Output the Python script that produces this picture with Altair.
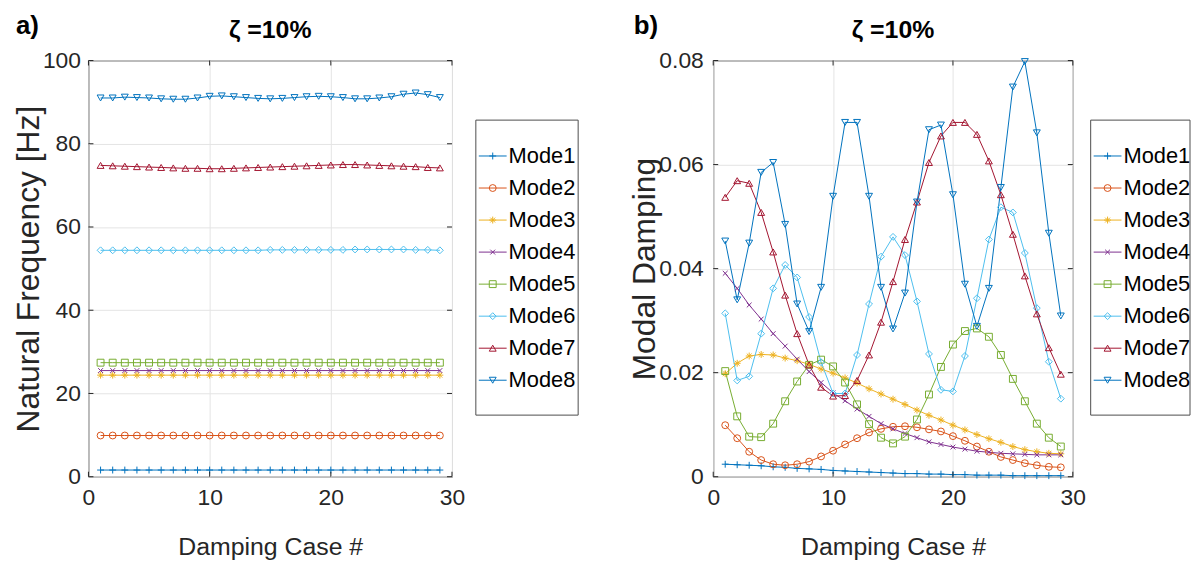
import altair as alt
import pandas as pd

cases = list(range(1, 30))
modes = ["Mode1", "Mode2", "Mode3", "Mode4", "Mode5", "Mode6", "Mode7", "Mode8"]

# a) natural frequency [Hz]
freq_mode1 = [1.6, 1.6, 1.6, 1.6, 1.6, 1.6, 1.6, 1.6, 1.6, 1.6, 1.6, 1.6, 1.6, 1.6, 1.6,
              1.6, 1.6, 1.6, 1.6, 1.6, 1.6, 1.6, 1.6, 1.6, 1.6, 1.6, 1.6, 1.6, 1.6]
freq_mode2 = [9.9, 9.9, 9.9, 9.9, 9.9, 9.9, 9.9, 9.9, 9.9, 9.9, 9.9, 9.9, 9.9, 9.9, 9.9,
              9.9, 9.9, 9.9, 9.9, 9.9, 9.9, 9.9, 9.9, 9.9, 9.9, 9.9, 9.9, 9.9, 9.9]
freq_mode3 = [24.4, 24.4, 24.4, 24.4, 24.4, 24.4, 24.4, 24.4, 24.4, 24.4, 24.4, 24.4, 24.4, 24.4, 24.4,
              24.4, 24.4, 24.4, 24.4, 24.4, 24.4, 24.4, 24.4, 24.4, 24.4, 24.4, 24.4, 24.4, 24.4]
freq_mode4 = [25.5, 25.5, 25.5, 25.5, 25.5, 25.5, 25.5, 25.5, 25.5, 25.5, 25.5, 25.5, 25.5, 25.5, 25.5,
              25.5, 25.5, 25.5, 25.5, 25.5, 25.5, 25.5, 25.5, 25.5, 25.5, 25.5, 25.5, 25.5, 25.5]
freq_mode5 = [27.4, 27.4, 27.4, 27.4, 27.4, 27.4, 27.4, 27.4, 27.4, 27.4, 27.4, 27.4, 27.4, 27.4, 27.4,
              27.4, 27.4, 27.4, 27.4, 27.4, 27.4, 27.4, 27.4, 27.4, 27.4, 27.4, 27.4, 27.4, 27.4]
freq_mode6 = [54.4, 54.4, 54.4, 54.4, 54.4, 54.4, 54.4, 54.4, 54.4, 54.4, 54.4, 54.4, 54.4, 54.4, 54.5,
              54.5, 54.5, 54.5, 54.5, 54.5, 54.5, 54.6, 54.6, 54.6, 54.6, 54.6, 54.5, 54.5, 54.4]
freq_mode7 = [74.8, 74.7, 74.6, 74.5, 74.4, 74.3, 74.2, 74.1, 74.1, 74.0, 74.0, 74.1, 74.2, 74.3, 74.4,
              74.5, 74.6, 74.7, 74.8, 74.9, 75.0, 75.0, 74.9, 74.8, 74.7, 74.6, 74.5, 74.3, 74.2]
freq_mode8 = [91.0, 91.0, 91.2, 91.1, 91.0, 90.8, 90.7, 90.7, 91.0, 91.4, 91.5, 91.3, 91.1, 90.9, 90.8,
              90.9, 91.1, 91.3, 91.4, 91.3, 91.1, 90.8, 90.8, 91.0, 91.3, 91.9, 92.2, 91.8, 91.1]

# b) modal damping
damp_mode1 = [0.0024, 0.0023, 0.0022, 0.0021, 0.0019, 0.0018, 0.0016, 0.0015, 0.0014, 0.0012,
              0.0011, 0.0010, 0.0009, 0.0008, 0.0007, 0.0006, 0.0006, 0.0005, 0.0005, 0.0004,
              0.0004, 0.0003, 0.0003, 0.0003, 0.0002, 0.0002, 0.0002, 0.0002, 0.0002]
damp_mode2 = [0.0099, 0.0074, 0.0048, 0.0032, 0.0024, 0.0022, 0.0024, 0.0029, 0.0039, 0.0050,
              0.0062, 0.0074, 0.0085, 0.0092, 0.0096, 0.0097, 0.0095, 0.0091, 0.0087, 0.0078,
              0.0069, 0.0058, 0.0048, 0.0038, 0.0032, 0.0026, 0.0022, 0.0019, 0.0018]
damp_mode3 = [0.0198, 0.0218, 0.0232, 0.0235, 0.0234, 0.0228, 0.0223, 0.0216, 0.0207, 0.0199,
              0.0190, 0.0180, 0.0169, 0.0159, 0.0149, 0.0139, 0.0128, 0.0118, 0.0109, 0.0099,
              0.0090, 0.0081, 0.0073, 0.0066, 0.0058, 0.0052, 0.0048, 0.0045, 0.0044]
damp_mode4 = [0.0391, 0.0362, 0.0330, 0.0303, 0.0275, 0.0251, 0.0226, 0.0202, 0.0181, 0.0161,
              0.0146, 0.0130, 0.0116, 0.0102, 0.0092, 0.0083, 0.0075, 0.0067, 0.0062, 0.0057,
              0.0053, 0.0049, 0.0047, 0.0045, 0.0044, 0.0043, 0.0042, 0.0042, 0.0042]
damp_mode5 = [0.0203, 0.0116, 0.0077, 0.0076, 0.0102, 0.0145, 0.0183, 0.0215, 0.0225, 0.0212,
              0.0181, 0.0139, 0.0101, 0.0075, 0.0064, 0.0077, 0.0110, 0.0158, 0.0211, 0.0254,
              0.0280, 0.0285, 0.0269, 0.0234, 0.0188, 0.0145, 0.0102, 0.0075, 0.0058]
damp_mode6 = [0.0314, 0.0185, 0.0193, 0.0275, 0.0362, 0.0407, 0.0383, 0.0307, 0.0220, 0.0160,
              0.0160, 0.0234, 0.0332, 0.0423, 0.0461, 0.0426, 0.0337, 0.0236, 0.0167, 0.0164,
              0.0232, 0.0343, 0.0456, 0.0518, 0.0508, 0.0430, 0.0324, 0.0221, 0.0150]
damp_mode7 = [0.0537, 0.0569, 0.0564, 0.0508, 0.0432, 0.0349, 0.0275, 0.0215, 0.0172, 0.0155,
              0.0156, 0.0185, 0.0234, 0.0297, 0.0375, 0.0456, 0.0528, 0.0604, 0.0655, 0.0681,
              0.0681, 0.0658, 0.0607, 0.0542, 0.0466, 0.0386, 0.0313, 0.0248, 0.0197]
damp_mode8 = [0.0453, 0.0340, 0.0449, 0.0585, 0.0604, 0.0485, 0.0332, 0.0279, 0.0364, 0.0539,
              0.0681, 0.0681, 0.0539, 0.0364, 0.0284, 0.0353, 0.0528, 0.0667, 0.0676, 0.0542,
              0.0370, 0.0289, 0.0362, 0.0556, 0.0749, 0.0798, 0.0661, 0.0468, 0.0309]

x_ticks = [0, 10, 20, 30]
freq_ticks = [0, 20, 40, 60, 80, 100]
damp_ticks = [0, 0.02, 0.04, 0.06, 0.08]

colors = ["#0072BD", "#D95319", "#EDB120", "#7E2F8E", "#77AC30", "#4DBEEE", "#A2142F", "#0072BD"]
shapes = [
    "M-1,0L1,0M0,-1L0,1",
    "circle",
    "M-1,0L1,0M0,-1L0,1M-0.7,-0.7L0.7,0.7M-0.7,0.7L0.7,-0.7",
    "M-0.7,-0.7L0.7,0.7M-0.7,0.7L0.7,-0.7",
    "square",
    "diamond",
    "triangle-up",
    "triangle-down",
]

FONT = "Liberation Sans"
AXIS_COLOR = "#262626"
GRID_COLOR = "#e4e4e4"


def long_df(series):
    rows = []
    for m, vals in zip(modes, series):
        for c, v in zip(cases, vals):
            rows.append({"Case": c, "Mode": m, "Value": v})
    return pd.DataFrame(rows)


color_scale = alt.Scale(domain=modes, range=colors)
shape_scale = alt.Scale(domain=modes, range=shapes)


def panel(df, W, H, ydomain, yticks, yfmt, ytitle, ylabel_pad, tag, tag_dx, leg_dx, leg_w):
    xscale = alt.Scale(domain=[0, 30], nice=False)
    xenc = alt.X("Case:Q", scale=xscale,
                 axis=alt.Axis(values=x_ticks, title="Damping Case #", grid=True,
                               labelFlush=False, titleFontSize=25, titlePadding=25,
                               labelPadding=10))
    yenc = alt.Y("Value:Q", scale=alt.Scale(domain=ydomain, nice=False, zero=False),
                 axis=alt.Axis(values=yticks, format=yfmt, title=ytitle, grid=True,
                               labelFlush=False, titleFontSize=32, titlePadding=-3,
                               labelPadding=ylabel_pad))
    col = alt.Color("Mode:N", scale=color_scale, legend=None)
    shp = alt.Shape("Mode:N", scale=shape_scale, legend=None)

    base = alt.Chart(df)
    lines = base.mark_line(strokeWidth=1).encode(x=xenc, y=yenc, color=col, detail="Mode:N")
    pts = base.mark_point(filled=False, size=48, strokeWidth=1, opacity=1).encode(
        x=alt.X("Case:Q", scale=xscale), y="Value:Q", color=col, shape=shp)

    xt = alt.Chart(pd.DataFrame({"Case": x_ticks}))
    yt = alt.Chart(pd.DataFrame({"Value": yticks}))
    tick_b = xt.mark_rule(color=AXIS_COLOR, strokeWidth=1).encode(
        x="Case:Q", y=alt.value(H), y2=alt.value(H - 5))
    tick_t = xt.mark_rule(color=AXIS_COLOR, strokeWidth=1).encode(
        x="Case:Q", y=alt.value(0), y2=alt.value(5))
    tick_l = yt.mark_rule(color=AXIS_COLOR, strokeWidth=1).encode(
        y="Value:Q", x=alt.value(0), x2=alt.value(5))
    tick_r = yt.mark_rule(color=AXIS_COLOR, strokeWidth=1).encode(
        y="Value:Q", x=alt.value(W - 5), x2=alt.value(W))

    one = alt.Chart(pd.DataFrame({"k": [0]}))
    tag_txt = one.mark_text(text=tag, align="left", baseline="alphabetic", fontSize=26,
                            fontWeight="bold", font=FONT, color="#000000").encode(
        x=alt.value(tag_dx), y=alt.value(-27))
    title_txt = one.mark_text(text="ζ =10%", align="center", baseline="alphabetic", fontSize=25,
                              fontWeight="bold", font=FONT, color="#000000").encode(
        x=alt.value(W / 2), y=alt.value(-23))

    data_layer = alt.layer(lines, pts, tick_b, tick_t, tick_l, tick_r, tag_txt, title_txt)

    # legend (drawn with the same colour and shape scales)
    ld = alt.Chart(pd.DataFrame({"Mode": modes}))
    ly = alt.Y("Mode:N", scale=alt.Scale(domain=modes, range=[80, 338]), axis=None)
    box = one.mark_rect(fill="white", stroke="#4d4d4d", strokeWidth=1).encode(
        x=alt.value(W + leg_dx), x2=alt.value(W + leg_dx + leg_w),
        y=alt.value(60), y2=alt.value(357))
    lrule = ld.mark_rule(strokeWidth=1).encode(
        x=alt.value(W + leg_dx + 3), x2=alt.value(W + leg_dx + 31), y=ly, color=col)
    lpt = ld.mark_point(filled=False, size=48, strokeWidth=1, opacity=1).encode(
        x=alt.value(W + leg_dx + 17), y=ly, color=col, shape=shp)
    ltxt = ld.mark_text(align="left", baseline="middle", fontSize=22,
                        font=FONT, color="#000000").encode(
        x=alt.value(W + leg_dx + 33), y=ly, text="Mode:N")
    legend_layer = alt.layer(box, lrule, lpt, ltxt)

    return alt.layer(data_layer, legend_layer).resolve_scale(y="independent").properties(
        width=W, height=H)


panel_a = panel(long_df([freq_mode1, freq_mode2, freq_mode3, freq_mode4,
                         freq_mode5, freq_mode6, freq_mode7, freq_mode8]),
                366, 419, [0, 100], freq_ticks, "d", "Natural Frequency [Hz]", 8, "a)", -73, 24, 103)
panel_b = panel(long_df([damp_mode1, damp_mode2, damp_mode3, damp_mode4,
                         damp_mode5, damp_mode6, damp_mode7, damp_mode8]),
                362, 419, [0, 0.08], damp_ticks, ".2~f", "Modal Damping", 10, "b)", -80, 18, 100)

chart = alt.hconcat(panel_a, panel_b, spacing=49).properties(
    padding={"left": 4, "top": 2, "right": 0, "bottom": 0}
).configure_view(
    stroke=AXIS_COLOR, strokeWidth=1
).configure_axis(
    labelFont=FONT, labelFontSize=23, labelColor=AXIS_COLOR,
    titleFont=FONT, titleColor=AXIS_COLOR, titleFontWeight="normal", domain=False, ticks=False,
    gridColor=GRID_COLOR, gridWidth=1
)

chart.save("out.html", embed_options={"renderer": "svg", "actions": False})
